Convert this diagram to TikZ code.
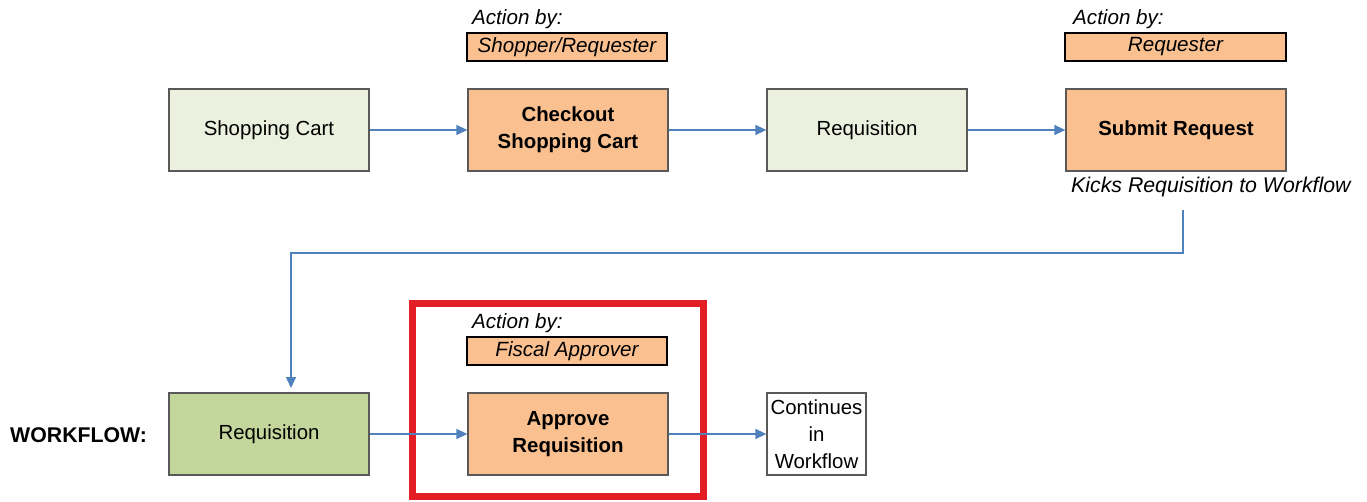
\documentclass[tikz,border=0pt]{standalone}
\usepackage{fontspec}
\setmainfont{Liberation Sans}
\usetikzlibrary{arrows.meta}
\definecolor{lgreen}{HTML}{EBF1DE}
\definecolor{dgreen}{HTML}{C3D69B}
\definecolor{orng}{HTML}{FAC090}
\definecolor{bord}{HTML}{595959}
\definecolor{arr}{HTML}{4F81BD}
\definecolor{redbox}{HTML}{E31E24}
\tikzset{
  box/.style={draw=bord, line width=1.3pt, minimum width=200pt, minimum height=82pt, inner sep=0pt, align=center, font=\fontsize{20.4}{27}\selectfont},
  gbox/.style={box, fill=lgreen},
  obox/.style={box, fill=orng, font=\fontsize{20.4}{27}\selectfont\bfseries},
  wbox/.style={box, fill=white, minimum width=99pt},
  actby/.style={anchor=base west, inner sep=0pt, font=\fontsize{20.6}{24}\selectfont\itshape},
  role/.style={draw=black, line width=2pt, fill=orng, minimum height=28pt, inner sep=0pt, font=\fontsize{20.6}{24}\selectfont\itshape},
  conn/.style={draw=arr, line width=1.4pt, -{Triangle[length=11pt,width=10pt]}},
}
\begin{document}
\begin{tikzpicture}[x=1pt,y=-1pt]
\useasboundingbox (0,0) rectangle (1367,502);
% top row
\node[gbox] (sc) at (269,130) {Shopping Cart};
\node[obox] (co) at (568,130) {Checkout\\Shopping Cart};
\node[gbox] (rq) at (867,130) {Requisition};
\node[obox, minimum width=220pt] (sr) at (1176,130) {Submit Request};
% action labels
\node[actby] (a1) at (472,25) {Action by:};
\node[role, minimum width=200pt] (r1) at (567,47) {Shopper/Requester};
\node[actby] (a2) at (1073,25) {Action by:};
\node[role, minimum width=221pt] (r2) at (1175.5,47) {Requester};
\node[anchor=base west, inner sep=0pt, font=\fontsize{21.3}{24}\selectfont\itshape] (kick) at (1071,193) {Kicks Requisition to Workflow};
% bottom row
\node[anchor=base west, inner sep=0pt, font=\fontsize{21.3}{24}\selectfont\bfseries] (wf) at (10,442) {WORKFLOW:};
\node[box, fill=dgreen] (rq2) at (269,434) {Requisition};
\node[obox] (ap) at (568,434) {Approve\\Requisition};
\node[wbox] (cw) at (816.5,434) {Continues\\in\\Workflow};
\node[actby] (a3) at (472,329) {Action by:};
\node[role, minimum width=200pt] (r3) at (567,351) {Fiscal Approver};
\node[draw=redbox, line width=7pt, minimum width=291pt, minimum height=193pt, inner sep=0pt] (hl) at (558,400) {};
% connectors
\draw[conn] (sc.east) -- (co.west);
\draw[conn] (co.east) -- (rq.west);
\draw[conn] (rq.east) -- (sr.west);
\draw[conn] (rq2.east) -- (ap.west);
\draw[conn] (ap.east) -- (cw.west);
\coordinate (k0) at (1183,210);
\coordinate (k1) at (1183,253);
\coordinate (k2) at (291,253);
\coordinate (k3) at (291,388);
\draw[conn] (k0) -- (k1) -- (k2) -- (k3);
\end{tikzpicture}
\end{document}
